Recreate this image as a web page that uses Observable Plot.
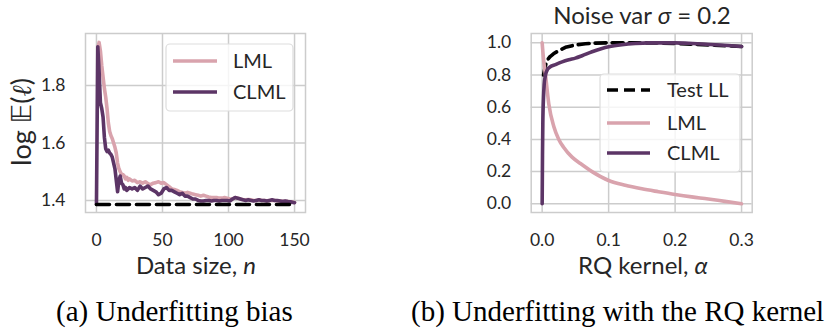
<!DOCTYPE html>
<html><head><meta charset="utf-8">
<script src="https://cdn.jsdelivr.net/npm/d3@7"></script>
<script src="https://cdn.jsdelivr.net/npm/@observablehq/plot@0.6"></script>
<style>
body{margin:0;background:#fff;}
#wrap{position:relative;width:833px;height:329px;overflow:hidden;font-family:Lato,sans-serif;background:#fff;}
.panel{position:absolute;top:0;}
.cap{position:absolute;font-family:"Liberation Serif",serif;font-size:29px;color:#000;white-space:nowrap;line-height:1;}
</style></head><body>
<div id="wrap"></div>
<script>
// ---------- Panel (a): Underfitting bias ----------
const nClmlA = [0,1,2,3,4,5,6,7,8,9,10,11,12,13,14,15,16,17,18,19,20,21,22,23,24,25,
  27,29,31,33,35,37,39,41,43,45,47,49,51,53,55,57,59,61,63,65,67,69,71,73,75,77,79,81,83,85,87,89,91,93,95,97,99,
  101,103,105,107,109,111,113,115,117,119,121,123,125,127,129,131,133,135,137,139,141,143,145,147,149,150];
const clmlA = [1.386,1.935,1.85,1.74,1.72,1.69,1.62,1.58,1.57,1.575,1.565,1.56,1.55,1.53,1.51,1.47,1.43,1.47,1.485,1.46,1.455,1.44,1.445,1.435,1.44,1.445,
  1.44,1.445,1.435,1.45,1.44,1.445,1.45,1.44,1.435,1.43,1.42,1.425,1.44,1.445,1.435,1.435,1.43,1.425,1.42,1.425,1.415,1.415,1.41,1.405,1.405,1.40,1.398,1.398,1.40,1.40,1.398,1.40,1.40,1.398,1.40,1.40,1.40,
  1.398,1.405,1.41,1.408,1.405,1.402,1.40,1.402,1.40,1.398,1.40,1.402,1.40,1.40,1.398,1.40,1.402,1.40,1.40,1.398,1.396,1.398,1.396,1.395,1.393,1.392];
const nLmlA = [1,2,3,4,5,6,7,8,9,10,11,12,13,14,15,16,17,18,19,20,21,22,23,24,25,
  27,29,31,33,35,37,39,41,43,45,47,49,51,53,55,57,59,61,63,65,67,69,71,73,75,77,79,81,83,85,87,89,91,93,95,97,99,
  101,103,105,107,109,111,113,115,117,119,121,123,125,127,129,131,133,135,137,139,141,143,145,147,149,150];
const lmlA = [1.93,1.95,1.92,1.87,1.83,1.79,1.76,1.72,1.67,1.64,1.625,1.615,1.60,1.585,1.565,1.53,1.51,1.50,1.49,1.49,1.485,1.475,1.48,1.47,1.475,
  1.468,1.47,1.462,1.465,1.46,1.465,1.458,1.455,1.46,1.462,1.465,1.46,1.462,1.455,1.448,1.44,1.438,1.435,1.43,1.428,1.425,1.428,1.425,1.422,1.42,1.418,1.415,1.418,1.415,1.412,1.41,1.41,1.41,1.408,1.408,1.41,1.408,
  1.405,1.405,1.41,1.408,1.405,1.403,1.402,1.403,1.402,1.40,1.40,1.402,1.40,1.40,1.399,1.40,1.40,1.40,1.399,1.398,1.397,1.397,1.396,1.395,1.394,1.393];
const nTestA = [0,150];
const testA = [1.386,1.386];
const xTicksA = [0,50,100,150];
const yTicksA = [1.4,1.6,1.8];

// ---------- Panel (b): Underfitting with the RQ kernel ----------
const alphaTestB = [0.002,0.005,0.008,0.012,0.017,0.025,0.035,0.05,0.065,0.08,0.1,0.125,0.15,0.175,0.2,0.225,0.25,0.275,0.3];
const testB = [0.80,0.86,0.895,0.915,0.932,0.952,0.972,0.987,0.994,0.998,1.0,1.0,1.0,0.999,0.996,0.992,0.987,0.982,0.977];
const alphaLmlB = [0,0.002,0.005,0.01,0.0175,0.025,0.0325,0.045,0.0576,0.075,0.1,0.125,0.15,0.175,0.2,0.225,0.25,0.275,0.3];
const lmlB = [1.0,0.9,0.8,0.62,0.48,0.4,0.35,0.29,0.25,0.2,0.145,0.115,0.093,0.075,0.058,0.043,0.03,0.015,0.0];
const alphaClmlB = [0,0.0005,0.001,0.002,0.003,0.005,0.008,0.011,0.02,0.03,0.04,0.05,0.06,0.075,0.09,0.1,0.12,0.14,0.16,0.18,0.2,0.22,0.24,0.26,0.28,0.3];
const clmlB = [0.0,0.3,0.5,0.66,0.74,0.8,0.835,0.848,0.865,0.882,0.895,0.905,0.92,0.945,0.965,0.975,0.988,0.996,1.0,1.0,1.0,0.997,0.993,0.988,0.983,0.977];
const xTicksB = [0,0.1,0.2,0.3];
const yTicksB = [0,0.2,0.4,0.6,0.8,1.0];

// ---------- styles ----------
const grid = "#cccccc", pink = "#d9a3ad", purple = "#5c3566", txt = "#262626";
const LW = 3.6;
const TICK = 17.5;
const rows = (xs, ys) => xs.map((x, i) => ({x, y: ys[i]}));
const baseStyle = {fontFamily: "Lato, sans-serif", fontSize: TICK + "px", color: txt, background: "transparent", overflow: "visible"};

function axes(xt, yt, intX) {
  return [
    Plot.gridX(xt, {stroke: grid, strokeOpacity: 1, strokeWidth: 1.5}),
    Plot.gridY(yt, {stroke: grid, strokeOpacity: 1, strokeWidth: 1.5}),
    Plot.frame({stroke: grid, strokeWidth: 1.5}),
    Plot.axisX(xt, {tickSize: 0, tickPadding: 21, tickFormat: d3.format(intX ? "d" : ".1f"), label: null, fontSize: TICK, fill: txt}),
    Plot.axisY(yt, {tickSize: 0, tickPadding: 20, tickFormat: d3.format(".1f"), label: null, fontSize: TICK, fill: txt})
  ];
}

const plotA = Plot.plot({
  width: 320, height: 280,
  marginLeft: 85, marginRight: 15, marginTop: 33, marginBottom: 68,
  style: baseStyle,
  x: {domain: [-8.3, 158.3]},
  y: {domain: [1.358, 1.981]},
  marks: [
    ...axes(xTicksA, yTicksA, true),
    Plot.line(rows(nLmlA, lmlA), {x: "x", y: "y", stroke: pink, strokeWidth: LW}),
    Plot.line(rows(nClmlA, clmlA), {x: "x", y: "y", stroke: purple, strokeWidth: LW}),
    Plot.line(rows(nTestA, testA), {x: "x", y: "y", stroke: "#000", strokeWidth: LW, strokeDasharray: "13,7"})
  ]
});

const plotB = Plot.plot({
  width: 423, height: 280,
  marginLeft: 120.7, marginRight: 81.3, marginTop: 33, marginBottom: 68,
  style: baseStyle,
  x: {domain: [-0.0165, 0.316]},
  y: {domain: [-0.054, 1.058]},
  marks: [
    ...axes(xTicksB, yTicksB, false),
    Plot.line(rows(alphaTestB, testB), {x: "x", y: "y", stroke: "#000", strokeWidth: LW, strokeDasharray: "11,6"}),
    Plot.line(rows(alphaLmlB, lmlB), {x: "x", y: "y", stroke: pink, strokeWidth: LW, curve: "monotone-x"}),
    Plot.line(rows(alphaClmlB, clmlB), {x: "x", y: "y", stroke: purple, strokeWidth: LW, curve: "monotone-x"})
  ]
});

const wrap = document.getElementById("wrap");
plotA.classList.add("panel"); plotA.style.left = "0px";
plotB.classList.add("panel"); plotB.style.left = "410px";
wrap.appendChild(plotA); wrap.appendChild(plotB);

function addLegend(svg, box, items) {
  const g = d3.select(svg).append("g");
  g.append("rect").attr("x", box.x).attr("y", box.y).attr("width", box.w).attr("height", box.h)
    .attr("rx", 4).attr("fill", "white").attr("fill-opacity", 0.8).attr("stroke", "#dddddd").attr("stroke-width", 1.2);
  items.forEach(it => {
    g.append("line").attr("x1", box.lx1).attr("x2", box.lx2).attr("y1", it.y).attr("y2", it.y)
      .attr("stroke", it.color).attr("stroke-width", LW).attr("stroke-dasharray", it.dash || null);
    g.append("text").attr("x", box.tx).attr("y", it.y).attr("dy", "0.36em").attr("fill", txt)
      .attr("text-anchor", "start").attr("font-size", 20).attr("font-family", "Lato, sans-serif").text(it.label);
  });
}
addLegend(plotA, {x: 166, y: 44, w: 127, h: 67, lx1: 173, lx2: 217, tx: 233},
  [{label: "LML", color: pink, y: 61}, {label: "CLML", color: purple, y: 92}]);
addLegend(plotB, {x: 190, y: 74, w: 140, h: 98, lx1: 197, lx2: 240, tx: 257},
  [{label: "Test LL", color: "#000", dash: "11,6", y: 90}, {label: "LML", color: pink, y: 123}, {label: "CLML", color: purple, y: 153}]);

function addText(svg, x, y, parts, opts = {}) {
  const t = d3.select(svg).append("text").attr("x", x).attr("y", y).attr("dy", "0.35em")
    .attr("text-anchor", "middle").attr("fill", txt).attr("font-size", opts.size || 23)
    .attr("font-family", "Lato, sans-serif");
  if (opts.rotate) t.attr("transform", `rotate(-90 ${x} ${y})`);
  parts.forEach(p => t.append("tspan").attr("font-style", p.italic ? "italic" : null)
    .attr("font-family", p.font || null).text(p.t));
}
addText(plotA, 196, 266, [{t: "Data size, "}, {t: "n", italic: true}], {size: 24});
addText(plotA, 22, 122, [{t: "log "}, {t: "𝔼", font: "DejaVu Sans"}, {t: "("}, {t: "ℓ", font: "DejaVu Serif", italic: true}, {t: ")"}], {rotate: true, size: 27});
addText(plotB, 233, 266, [{t: "RQ kernel, "}, {t: "α", italic: true}], {size: 24});
addText(plotB, 232, 16, [{t: "Noise var "}, {t: "σ", italic: true}, {t: " = 0.2"}], {size: 24});

const capA = document.createElement("div"); capA.className = "cap";
capA.style.left = "56px"; capA.style.top = "297px"; capA.textContent = "(a) Underfitting bias";
const capB = document.createElement("div"); capB.className = "cap";
capB.style.left = "411px"; capB.style.top = "297px"; capB.textContent = "(b) Underfitting with the RQ kernel";
wrap.appendChild(capA); wrap.appendChild(capB);
</script>
</body></html>
